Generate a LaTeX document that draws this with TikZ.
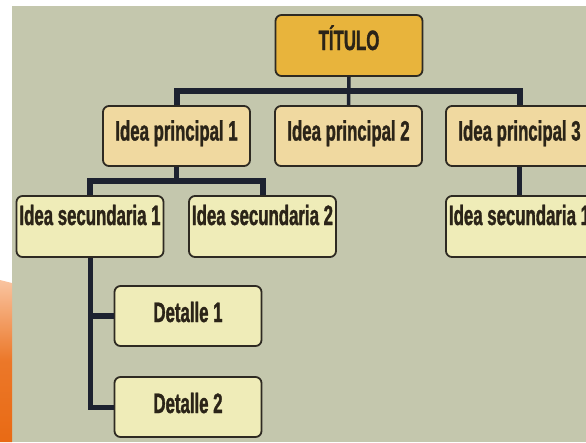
\documentclass[tikz,border=0pt]{standalone}
\usepackage{fontspec}
\newfontfamily\cond[FakeStretch=0.6,FakeBold=1.2]{Liberation Sans}
\definecolor{bg}{HTML}{C4C7AD}
\definecolor{titlefill}{HTML}{E8B43C}
\definecolor{ipfill}{HTML}{F0D9A0}
\definecolor{isfill}{HTML}{EFECB8}
\definecolor{boxline}{HTML}{2E2A22}
\definecolor{txt}{HTML}{2B2418}
\definecolor{conn}{HTML}{1D2230}
\definecolor{orlight}{HTML}{F9C4A0}
\definecolor{ordark}{HTML}{E96A14}
\begin{document}
\begin{tikzpicture}[x=1pt,y=-1pt,
  box/.style={draw=boxline, line width=1.8pt, rounded corners=6pt,
    minimum width=147pt, minimum height=60pt, inner sep=0pt,
    font=\cond\bfseries\fontsize{28}{28}\selectfont, text=txt,
    text height=20pt, text depth=11pt},
  titlebox/.style={box, fill=titlefill, minimum height=61pt},
  ipbox/.style={box, fill=ipfill},
  isbox/.style={box, fill=isfill, text depth=23pt, minimum height=61pt},
  detbox/.style={box, fill=isfill, text depth=8pt},
  bar/.style={draw=conn, line width=6pt, line join=miter},
  drop/.style={draw=conn, line width=5pt},
  thinline/.style={draw=conn, line width=3.5pt}]
\useasboundingbox (0,0) rectangle (586,442);
\fill[white] (0,0) rectangle (586,442);
\fill[bg] (12,6) rectangle (586,442);
\shade[top color=orlight, bottom color=ordark, middle color=ordark!85!orlight]
  (0,280) -- (12,283) -- (12,442) -- (0,442) -- cycle;

\coordinate (b1) at (348.5,90.5);
\coordinate (b2) at (176.5,181);
\node[titlebox] (title) at (349,45.5) {TÍTULO};
\node[ipbox] (ip1) at (176.5,136) {Idea principal 1};
\node[ipbox] (ip2) at (348.5,136) {Idea principal 2};
\node[ipbox] (ip3) at (519.5,136) {Idea principal 3};
\node[isbox] (is1) at (90,226.5) {Idea secundaria 1};
\node[isbox] (is2) at (262.5,226.5) {Idea secundaria 2};
\node[isbox] (is3) at (519.5,226.5) {Idea secundaria 1};
\node[detbox] (d1) at (188,316) {Detalle 1};
\node[detbox] (d2) at (188,407) {Detalle 2};

\draw[bar] (ip1.north) |- (b1) -| (ip3.north);
\draw[thinline] (title.south) -- (ip2.north);
\draw[drop] (ip1.south) -- (b2);
\draw[bar] (is1.north) |- (b2) -| (is2.north);
\draw[drop] (ip3.south) -- (is3.north);
\draw[drop, line join=miter] (is1.south) |- (d2.west);
\draw[bar] (is1.south |- d1.west) -- (d1.west);
\end{tikzpicture}
\end{document}
